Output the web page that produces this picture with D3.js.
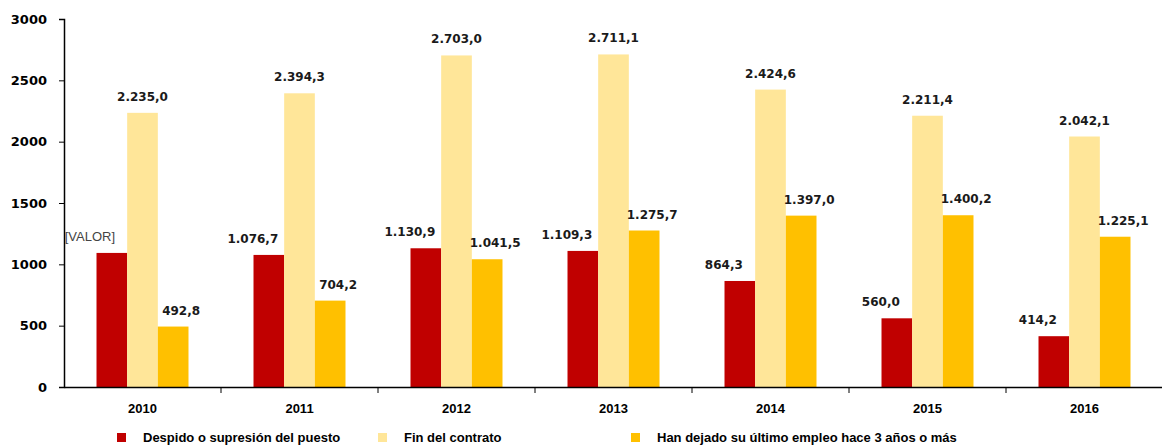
<!DOCTYPE html>
<html lang="es">
<head>
<meta charset="UTF-8">
<title>Parados por motivo</title>
<script src="https://d3js.org/d3.v7.min.js"></script>
<style>
    body { margin: 0; background: #fff; }
    text { font-family: "Liberation Sans", Arial, sans-serif; fill: #000; }
    .tick text { font-size: 13px; font-weight: bold; }
    .yax .tick text { font-family: "DejaVu Sans", sans-serif; }
    .lbl { font-family: "DejaVu Sans", sans-serif; font-size: 12px; font-weight: bold; fill: #1a1a1a; }
    .leg { font-size: 13px; font-weight: bold; }
</style>
</head>
<body>
<svg width="1162" height="447"></svg>
<script>
    // Datos (miles de personas)
    const years = ["2010", "2011", "2012", "2013", "2014", "2015", "2016"];
    const despido = [1093, 1076.7, 1130.9, 1109.3, 864.3, 560.0, 414.2];
    const finContrato = [2235.0, 2394.3, 2703.0, 2711.1, 2424.6, 2211.4, 2042.1];
    const hanDejado = [492.8, 704.2, 1041.5, 1275.7, 1397.0, 1400.2, 1225.1];
    const seriesNames = ["Despido o supresión del puesto", "Fin del contrato", "Han dejado su último empleo hace 3 años o más"];
    const colors = ["#C00000", "#FFE699", "#FFC000"];
    const yTicks = [0, 500, 1000, 1500, 2000, 2500, 3000];

    const series = [despido, finContrato, hanDejado];

    const svg = d3.select("svg");
    const x0 = 64, x1 = 1163, yTop = 19, yBot = 387;

    const fmt = d3.formatLocale({decimal: ",", thousands: ".", grouping: [3], currency: ["", "€"]}).format(",.1f");

    const x = d3.scaleBand().domain(years).range([x0, x1]);
    const xs = d3.scaleBand().domain(d3.range(series.length))
        .range([0, x.bandwidth()]).paddingOuter(1.06);
    const y = d3.scaleLinear().domain([0, 3000]).range([yBot, yTop]);

    // eje Y
    const gy = svg.append("g").attr("class", "yax").attr("transform", `translate(${x0},0)`)
        .call(d3.axisLeft(y).tickValues(yTicks).tickSize(5).tickPadding(12).tickFormat(d3.format("d")));
    gy.select(".domain").attr("stroke", "#000").attr("stroke-width", 1.5);
    gy.selectAll(".tick line").attr("stroke", "#000");

    // barras
    const labelDx = [-16, 0, 8];
    series.forEach((vals, si) => {
        svg.append("g").selectAll("rect").data(vals).join("rect")
            .attr("x", (d, i) => x(years[i]) + xs(si))
            .attr("y", d => y(d))
            .attr("width", xs.bandwidth())
            .attr("height", d => yBot - y(d))
            .attr("fill", colors[si]);

        svg.append("g").selectAll("text").data(vals).join("text")
            .attr("class", "lbl")
            .attr("text-anchor", "middle")
            .attr("x", (d, i) => x(years[i]) + xs(si) + xs.bandwidth() / 2 + labelDx[si] - (si === 0 && i === 0 ? 6 : 0))
            .attr("y", d => y(d) - 12)
            .style("font-family", (d, i) => si === 0 && i === 0 ? "Liberation Sans" : null)
            .style("font-size", (d, i) => si === 0 && i === 0 ? "13px" : null)
            .style("font-weight", (d, i) => si === 0 && i === 0 ? "normal" : "bold")
            .style("fill", (d, i) => si === 0 && i === 0 ? "#444" : null)
            .text((d, i) => si === 0 && i === 0 ? "[VALOR]" : fmt(d));
    });

    // eje X
    const gx = svg.append("g").attr("transform", `translate(0,${yBot})`)
        .call(d3.axisBottom(x).tickSize(0).tickPadding(17));
    gx.select(".domain").attr("stroke", "#000").attr("stroke-width", 1.5);
    svg.append("g").selectAll("line").data(years.slice(1)).join("line")
        .attr("x1", d => x(d)).attr("x2", d => x(d))
        .attr("y1", yBot).attr("y2", yBot + 6)
        .attr("stroke", "#000");

    // leyenda
    const legX = [117, 378, 631];
    const leg = svg.append("g").selectAll("g").data(seriesNames).join("g")
        .attr("transform", (d, i) => `translate(${legX[i]},433)`);
    leg.append("rect").attr("width", 9).attr("height", 9).attr("fill", (d, i) => colors[i]);
    leg.append("text").attr("class", "leg").attr("x", 26).attr("y", 9).text(d => d);
</script>
</body>
</html>
